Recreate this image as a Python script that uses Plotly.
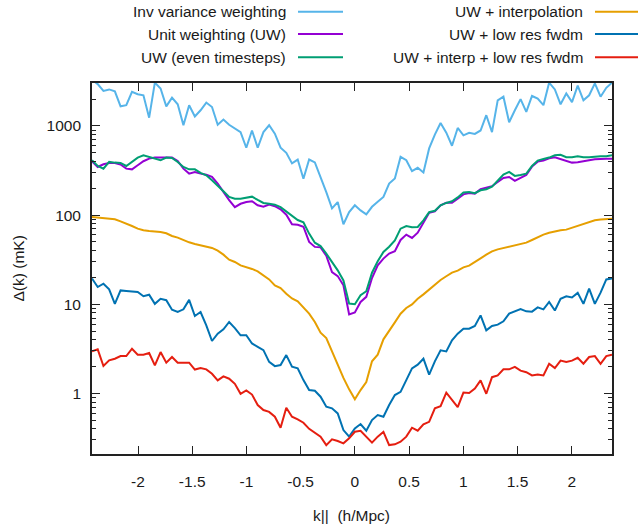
import numpy as np
import plotly.graph_objects as go

# k_parallel grid (FFT ordering: -46..45 times dk)
dk = 0.0527
k = np.arange(-46, 46) * dk

inv_var = [3300, 2950, 2470, 2570, 2450, 1660, 1710, 2410, 2270, 2210, 1240, 3060, 2630, 1660, 2080, 1750, 1020, 1710, 1280, 1500, 1830, 1630, 1030, 1180,
           1030, 930, 854, 570, 890, 570, 854, 1018, 820, 570, 500, 380, 420, 256, 420, 390, 272, 181, 119, 140, 79, 108,
           129, 113, 102, 124, 141, 160, 226, 257, 450, 413, 311, 339, 300, 560, 800, 1080, 840, 600, 950, 785, 840, 815, 890, 1320,
           854, 1940, 2130, 1100, 1500, 2000, 1440, 2170, 2030, 1710, 3060, 2570, 1750, 2310, 1850, 2840, 1940, 2210, 3000, 2130, 2680, 3060]

unit_w = [402, 347, 372, 385, 385, 369, 332, 326, 362, 402, 430, 442, 442, 446, 442, 405, 332, 292, 305, 292, 284, 268, 226, 182,
          147, 123, 134, 140, 143, 129, 124, 131, 126, 116, 101, 79, 78, 74, 50, 44, 43.5, 35, 23, 20.7, 16.3, 7.7, 8.1,
          10.6, 12.1, 19.7, 27.3, 32.5, 37.0, 39.3, 52.6, 60.4, 55.4, 63.5, 83.7, 106, 110, 129, 138, 138, 153, 171, 177, 174, 195, 204,
          211, 235, 261, 268, 242, 261, 282, 350, 398, 409, 434, 446, 427, 402, 388, 391, 405, 412, 423, 430, 430, 430]

uw_even = [412, 356, 332, 395, 388, 385, 356, 395, 442, 469, 449, 430, 412, 442, 438, 395, 347, 326, 326, 297, 280, 246, 216, 185,
           160, 153, 153, 156, 161, 148, 137, 134, 131, 123, 110, 97, 88, 83, 62, 49, 45, 37, 30, 24, 18.5, 10.2, 10.0,
           12.6, 14.0, 22.6, 30.3, 38.6, 44.2, 52.1, 70.5, 75.5, 72.9, 73.6, 87.4, 108, 112, 129, 137, 143, 158, 179, 182, 176, 190, 195,
           209, 246, 285, 305, 275, 282, 292, 356, 409, 427, 442, 469, 474, 446, 446, 458, 446, 446, 454, 458, 458, 469]

uw_interp = [95.3, 93.7, 91.3, 90.5, 89.8, 85.2, 80.9, 75.5, 70.5, 67.5, 66.3, 65.8, 64.7, 62.5, 58.3, 55.9, 52.1, 49.5, 47.5, 45.8, 44.2, 42.8, 39.9, 36.0,
             31.6, 29.8, 27.3, 26.2, 24.9, 23.4, 20.9, 19.0, 16.3, 15.2, 13.1, 11.6, 10.8, 9.23, 7.84, 6.32, 4.80, 4.18, 2.96, 2.15, 1.49, 1.11, 0.857,
             1.09, 1.34, 2.29, 2.72, 4.04, 4.97, 6.27, 7.84, 9.08, 9.97, 11.5, 12.9, 14.6, 16.7, 18.7, 20.6, 22.6, 23.8, 25.9, 27.1, 29.5, 32.7, 36.0,
             39.2, 41.3, 42.8, 44.2, 45.4, 47.0, 49.1, 52.6, 56.8, 60.4, 63.5, 65.8, 67.5, 68.7, 72.3, 75.5, 78.9, 84.6, 87.5, 89.0, 90.5, 91.3]

uw_lowres = [19.4, 15.6, 17.0, 14.7, 10.1, 14.3, 14.1, 14.0, 13.7, 12.3, 12.8, 10.1, 11.5,
             11.1, 8.69, 8.18, 8.77, 11.2, 7.38, 8.18, 5.80, 3.87, 4.67, 5.23, 6.32, 5.41, 4.48,
             4.50, 3.63, 3.33, 3.06, 2.26, 2.02, 2.08, 2.69, 1.99, 1.91, 1.41, 1.09, 1.07, 0.918, 0.709, 0.679, 0.596, 0.388, 0.327,
             0.405, 0.453, 0.381, 0.502, 0.571, 0.547, 0.74, 0.957, 1.04, 1.41, 1.91, 2.1, 2.45, 1.62, 2.29, 3.04, 2.96, 3.93,
             4.67, 5.32, 5.32, 5.70, 7.50, 5.09, 5.70, 5.90, 6.43, 7.84, 8.33, 8.84, 8.33, 8.26, 9.23, 8.77, 10.6, 8.5, 11.5, 12.3, 11.9, 13.4, 10.1, 15.0, 10.1, 13.5, 19.0, 19.4]

uw_interp_lowres = [2.96, 3.12, 2.03, 2.35, 2.45, 2.62, 2.62, 3.17, 2.72, 2.72, 2.84, 2.06, 2.91, 2.21, 2.56, 2.21, 2.2, 2.21, 1.85, 1.92, 1.86, 1.66, 1.40, 1.55,
                    1.46, 1.28, 0.99, 1.08,
                    0.97, 0.74, 0.65, 0.62, 0.547, 0.412, 0.69, 0.547, 0.511, 0.469, 0.40, 0.36, 0.327, 0.263, 0.305, 0.292, 0.275, 0.313,
                    0.371, 0.381, 0.327, 0.28, 0.327, 0.371, 0.263, 0.268, 0.287, 0.327, 0.412, 0.381, 0.45, 0.48, 0.68, 0.72, 1.02, 0.835,
                    0.70, 1.02, 1.01, 1.13, 1.40, 0.99,
                    1.52, 1.59, 1.86, 1.86, 1.98, 1.80, 1.73, 1.59, 1.63, 1.59, 2.15, 1.92, 2.33, 2.25, 2.33, 2.51, 2.15, 2.56, 2.62, 2.15, 2.62, 2.72]

names = ["Inv variance weighting", "Unit weighting (UW)", "UW (even timesteps)",
         "UW + interpolation", "UW + low res fwdm", "UW + interp + low res fwdm"]
colors = ["#56b4e9", "#9400d3", "#009e73", "#e69f00", "#0072b2", "#e51e10"]
series = [inv_var, unit_w, uw_even, uw_interp, uw_lowres, uw_interp_lowres]

x_ticks = [-2, -1.5, -1, -0.5, 0, 0.5, 1, 1.5, 2]
x_ticklabels = ["-2", "-1.5", "-1", "-0.5", "0", "0.5", "1", "1.5", "2"]
y_ticks = [1, 10, 100, 1000]
y_ticklabels = ["1", "10", "100", "1000"]
y_minor = [m * 10.0 ** e for e in range(-1, 4) for m in range(2, 10) if 0.2 <= m * 10.0 ** e <= 3000]

fig = go.Figure()
for name, col, ys in zip(names, colors, series):
    fig.add_trace(go.Scatter(x=k, y=ys, mode="lines", name=name,
                             line=dict(color=col, width=2), showlegend=False))

FONT = "Liberation Sans, Arial, Helvetica, sans-serif"
fig.update_layout(
    width=638, height=527,
    margin=dict(l=92, r=26, t=83, b=73),
    plot_bgcolor="white", paper_bgcolor="white",
    font=dict(family=FONT, size=15.5, color="#1a1a1a"),
    showlegend=False,
)
fig.update_xaxes(range=[k[0], k[-1]], tickmode="array", tickvals=x_ticks, ticktext=x_ticklabels,
                 ticks="inside", ticklen=8, tickwidth=1, tickcolor="#222",
                 showline=True, linewidth=1.8, linecolor="#222", mirror="allticks",
                 showgrid=False, zeroline=False, ticklabelstandoff=12)
fig.update_yaxes(type="log", range=[-0.68, 3.482], tickmode="array", tickvals=y_ticks, ticktext=y_ticklabels,
                 ticks="inside", ticklen=8, tickwidth=1, tickcolor="#222",
                 minor=dict(ticks="inside", ticklen=4, tickwidth=1, tickcolor="#222", tickvals=y_minor, showgrid=False),
                 showline=True, linewidth=1.8, linecolor="#222", mirror="allticks",
                 showgrid=False, zeroline=False, ticklabelstandoff=6)

# axis titles
fig.add_annotation(text="\u0394(k) (mK)", xref="paper", yref="paper", x=(18 - 92) / 520, y=0.5,
                   textangle=-90, showarrow=False, xanchor="center", yanchor="middle")
fig.add_annotation(text="k||\u00a0 (h/Mpc)", xref="paper", yref="paper", x=(351 - 92) / 520, y=(454 - 515) / 371,
                   showarrow=False, xanchor="center", yanchor="middle")

# legend (gnuplot style: text right-aligned, sample to the right)
rows = [11.7, 34.0, 57.3]
cols = [(287.5, 298, 343), (585, 595, 640)]
for i, (name, col) in enumerate(zip(names, colors)):
    c = cols[i // 3]
    yp = (454 - rows[i % 3]) / 371
    fig.add_annotation(text=name, xref="paper", yref="paper", x=(c[0] - 92) / 520, y=yp,
                       showarrow=False, xanchor="right", yanchor="middle")
    fig.add_shape(type="line", xref="paper", yref="paper", x0=(c[1] - 92) / 520, x1=(c[2] - 92) / 520,
                  y0=yp, y1=yp, line=dict(color=col, width=2))

fig.write_html("out.html")
